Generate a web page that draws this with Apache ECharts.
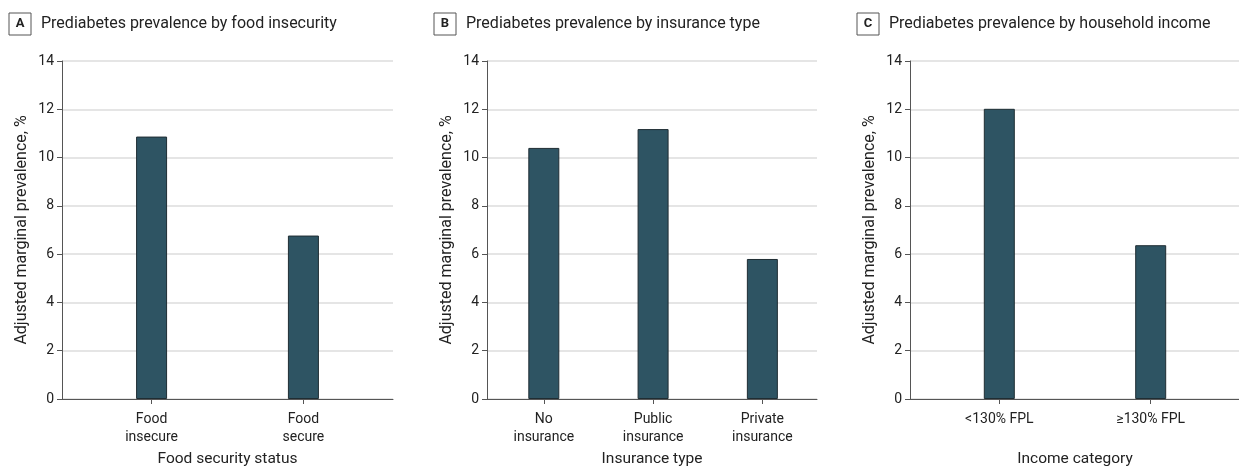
<!DOCTYPE html>
<html><head><meta charset="utf-8">
<script src="https://cdn.jsdelivr.net/npm/echarts@6/dist/echarts.min.js"></script>
<style>html,body{margin:0;padding:0;background:#fff}#c{width:1239px;height:466px}</style>
</head><body><div id="c"></div>
<script>
const panelLetters = ['A', 'B', 'C'];
const panelTitles = ['Prediabetes prevalence by food insecurity', 'Prediabetes prevalence by insurance type', 'Prediabetes prevalence by household income'];
const xAxisNames = ['Food security status', 'Insurance type', 'Income category'];
const catsA = ['Food\ninsecure', 'Food\nsecure'];
const catsB = ['No\ninsurance', 'Public\ninsurance', 'Private\ninsurance'];
const catsC = ['<130% FPL', '≥130% FPL'];
const valsA = [10.87, 6.77];
const valsB = [10.40, 11.18, 5.80];
const valsC = [12.02, 6.37];
const yTicks = [0, 2, 4, 6, 8, 10, 12, 14];
const yName = 'Adjusted marginal prevalence, %';

const FONT = "'Roboto', 'Noto Sans', sans-serif";
const cats = [catsA, catsB, catsC];
const vals = [valsA, valsB, valsC];
const grids = [
  {left: 62, width: 331, top: 61, height: 338, outerBoundsMode: 'none'},
  {left: 487, width: 330, top: 61, height: 338, outerBoundsMode: 'none'},
  {left: 910, width: 330, top: 61, height: 338, outerBoundsMode: 'none'}
];
const xRanges = [[0.41, 2.59], [0.48, 3.5], [0.41, 2.59]];
const titleLeft = [9, 434, 857];

const chart = echarts.init(document.getElementById('c'), null, {renderer: 'canvas'});
const option = {
  animation: false,
  backgroundColor: '#fff',
  title: panelTitles.map((t, i) => ({
    left: titleLeft[i], top: 13, padding: 0,
    text: '{b|' + panelLetters[i] + '}{t|' + t + '}',
    textStyle: {
      fontWeight: 'normal',
      rich: {
        b: {fontFamily: FONT, fontSize: 13, fontWeight: 'bold', color: '#222', borderColor: '#555', borderWidth: 1, width: 22, height: 22, align: 'center', lineHeight: 22},
        t: {fontFamily: FONT, fontSize: 16, fontWeight: 'normal', color: '#222', padding: [0, 0, 0, 10]}
      }
    }
  })),
  grid: grids,
  xAxis: cats.map((c, i) => ({
    type: 'value', gridIndex: i, min: xRanges[i][0], max: xRanges[i][1],
    name: xAxisNames[i], nameLocation: 'middle', nameGap: 52,
    nameTextStyle: {fontFamily: FONT, fontSize: 15.5, color: '#222'},
    axisLine: {show: true, lineStyle: {color: '#555', width: 1}},
    axisTick: {show: true, length: 5, lineStyle: {color: '#555'}, customValues: c.map((_, k) => k + 1)},
    axisLabel: {fontFamily: FONT, fontSize: 14, color: '#222', lineHeight: 18, margin: 11,
      customValues: c.map((_, k) => k + 1),
      formatter: v => c[Math.round(v) - 1] || ''},
    splitLine: {show: false}
  })),
  yAxis: cats.map((c, i) => ({
    type: 'value', gridIndex: i, min: 0, max: 14, interval: 2,
    name: yName, nameLocation: 'middle', nameGap: 32,
    nameTextStyle: {fontFamily: FONT, fontSize: 16, color: '#222'},
    axisLine: {show: true, lineStyle: {color: '#555', width: 1}},
    axisTick: {show: true, length: 5, lineStyle: {color: '#555'}},
    axisLabel: {fontFamily: FONT, fontSize: 14, color: '#222', margin: 8},
    splitLine: {show: true, lineStyle: {color: '#dcdcdc', width: 1.5}}
  })),
  series: vals.map((v, i) => ({
    type: 'bar', xAxisIndex: i, yAxisIndex: i, barWidth: 31,
    data: v.map((y, k) => [k + 1, y]),
    itemStyle: {color: '#2e5463', borderColor: '#1f2d33', borderWidth: 1}
  }))
};
chart.setOption(option);
</script></body></html>
